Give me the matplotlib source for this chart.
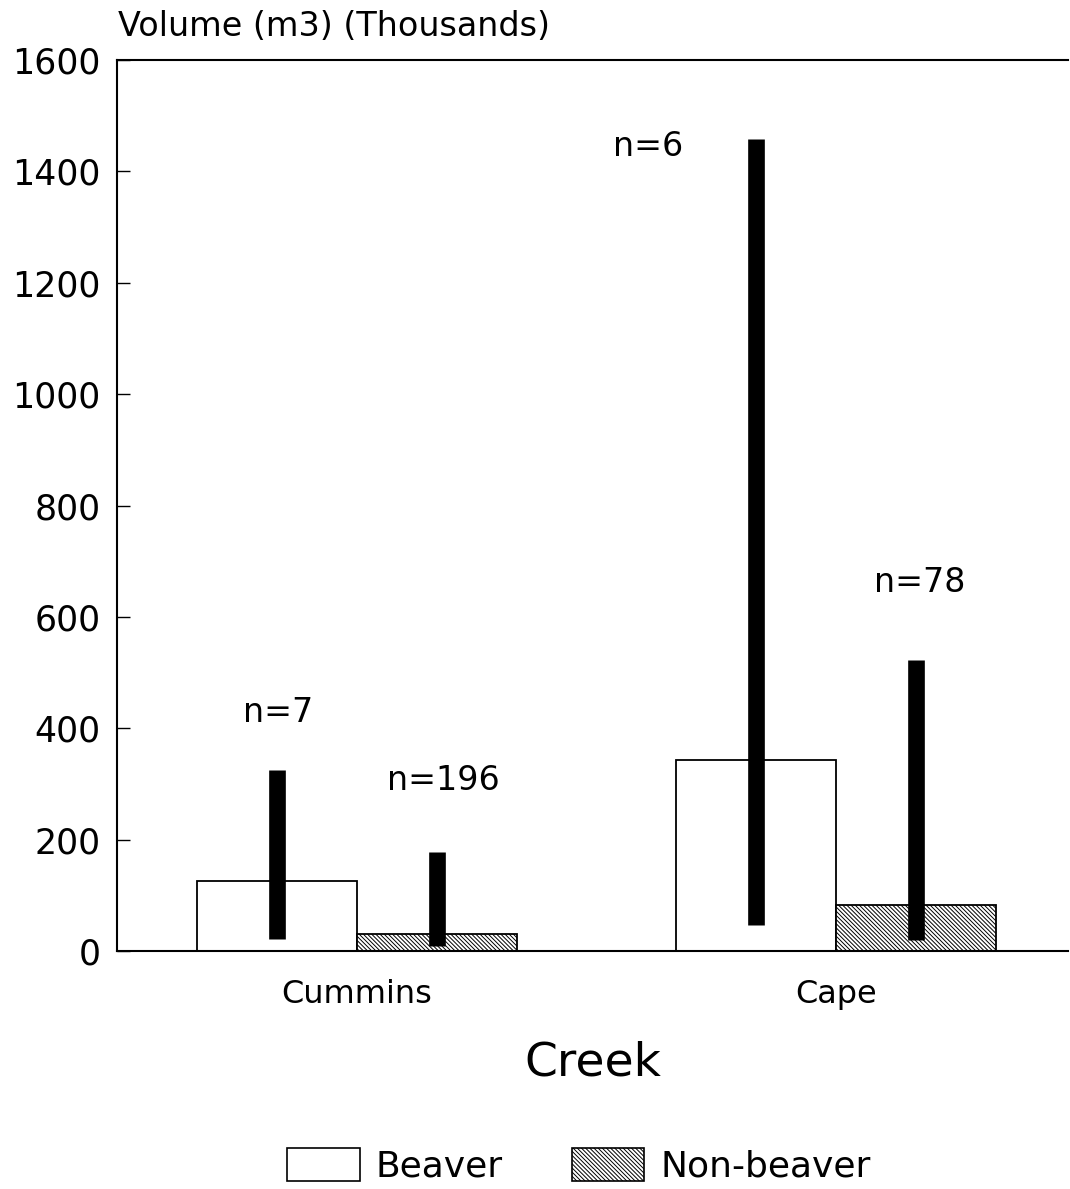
import matplotlib
matplotlib.use("Agg")
import matplotlib.pyplot as plt
import numpy as np
from matplotlib.patches import Patch

creeks = ["Cummins", "Cape"]
series = ["Beaver", "Non-beaver"]
beaver_mean = [126, 343]
nonbeaver_mean = [31, 83]
beaver_low = [22, 47]
beaver_high = [325, 1458]
nonbeaver_low = [9, 20]
nonbeaver_high = [178, 523]
beaver_n = ["n=7", "n=6"]
nonbeaver_n = ["n=196", "n=78"]
beaver_n_y = [428, 1445]
nonbeaver_n_y = [306, 662]
yticks = [0, 200, 400, 600, 800, 1000, 1200, 1400, 1600]

plt.rcParams['font.family'] = ['DejaVu Sans']
plt.rcParams['hatch.linewidth'] = 0.7

fig = plt.figure(figsize=(10.7, 11.89), dpi=100)
ax = fig.add_axes([117/1070, 1-951/1189, (1068-117)/1070, (951-60)/1189])

x = np.arange(len(creeks))
w = 0.334
HATCH = '\\' * 8
ax.bar(x - w/2, beaver_mean, width=w, color='white', edgecolor='black', linewidth=1.3)
ax.bar(x + w/2, nonbeaver_mean, width=w, color='white', edgecolor='black', linewidth=1.3,
       hatch=HATCH)

ax.vlines(x - w/2, beaver_low, beaver_high, color='black', linewidth=12)
ax.vlines(x + w/2, nonbeaver_low, nonbeaver_high, color='black', linewidth=12)

bx_off = [-0.165 + 0.167, 0.607 - 1 + 0.167]
nx_off = [0.18 - 0.167, 1.175 - 1 - 0.167]
for i in range(len(creeks)):
    ax.text(x[i] - w/2 + bx_off[i], beaver_n_y[i], beaver_n[i], ha='center', va='center', fontsize=24)
    ax.text(x[i] + w/2 + nx_off[i], nonbeaver_n_y[i], nonbeaver_n[i], ha='center', va='center', fontsize=24)

ax.set_xlim(-0.501, 1.484)
ax.set_ylim(0, 1600)
ax.set_yticks(yticks)
ax.set_yticklabels([str(t) for t in yticks], fontsize=25)
ax.tick_params(axis='y', direction='in', length=9, width=1, pad=12)
ax.set_xticks(x)
ax.set_xticklabels(creeks, fontsize=23)
ax.tick_params(axis='x', length=0, pad=20)
ax.spines['right'].set_visible(False)
for s in ['left', 'bottom', 'top']:
    ax.spines[s].set_linewidth(1.5)

ax.set_xlabel("Creek", fontsize=34, labelpad=22)
fig.text(118/1070, 1-27/1189, "Volume (m3) (Thousands)", fontsize=24, ha='left', va='center')

handles = [Patch(facecolor='white', edgecolor='black', linewidth=1.2, label='Beaver'),
           Patch(facecolor='white', edgecolor='black', linewidth=1.2, hatch=HATCH, label='Non-beaver')]
fig.legend(handles=handles, loc='center', bbox_to_anchor=(579/1070, 1-1166/1189), ncol=2,
           frameon=False, fontsize=26, handlelength=2.0, handleheight=1.0,
           handletextpad=0.45, columnspacing=1.9)

fig.savefig("out.png", dpi=100, facecolor='white')
